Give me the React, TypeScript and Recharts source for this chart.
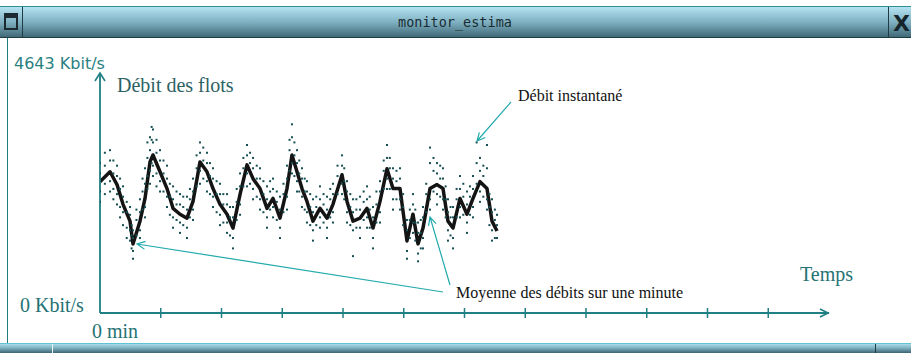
import React from 'react';
import { ComposedChart, Line, Scatter, XAxis, YAxis } from 'recharts';

// moyenne glissante (Kbit/s) en fonction du temps (min)
const avgTimes = [
  0, 0.165, 0.28, 0.379, 0.494, 0.543, 0.658, 0.741, 0.823, 0.872,
  0.988, 1.103, 1.202, 1.317, 1.432, 1.531, 1.646, 1.761, 1.86, 1.975,
  2.091, 2.189, 2.305, 2.42, 2.519, 2.634, 2.749, 2.848, 2.963, 3.078,
  3.16, 3.243, 3.325, 3.407, 3.506, 3.621, 3.737, 3.835, 3.984, 4.066,
  4.165, 4.28, 4.395, 4.494, 4.609, 4.724, 4.823, 4.938, 5.053, 5.152,
  5.235, 5.317, 5.432, 5.547, 5.646, 5.728, 5.811, 5.926, 6.041, 6.14,
  6.255, 6.37, 6.453, 6.535,
];
const avgValues = [
  2541, 2732, 2484, 2102, 1777, 1337, 1777, 2216, 2923, 3057,
  2732, 2407, 2025, 1911, 1834, 2159, 2923, 2732, 2407, 2102,
  1911, 1643, 2293, 2866, 2599, 2407, 2025, 2216, 1834, 2407,
  3057, 2732, 2407, 2159, 1777, 2025, 1834, 2102, 2675, 2159,
  1777, 1834, 2025, 1643, 2159, 2790, 2407, 2407, 1395, 1911,
  1337, 1643, 2407, 2484, 2407, 1777, 1643, 2216, 1911, 2216,
  2541, 2407, 1777, 1586,
];

// débit instantané : [temps, valeurs...]
const dotGroups: number[][] = [
  [0.0, 2900, 2700, 2350, 2150], [0.08, 3100, 2850, 2500, 2300],
  [0.165, 3150, 2950, 2550, 2350], [0.22, 2950, 2700, 2400, 2200],
  [0.28, 2850, 2650, 2300, 2100], [0.33, 2600, 2400, 2050, 1850],
  [0.379, 2450, 2250, 1950, 1700], [0.44, 2150, 1950, 1650, 1450],
  [0.494, 2050, 1900, 1600, 1400], [0.52, 1700, 1500, 1250],
  [0.543, 1600, 1450, 1200, 1050], [0.6, 2000, 1800, 1500],
  [0.658, 2200, 1950, 1600, 1450], [0.7, 2600, 2350, 2000],
  [0.741, 2800, 2500, 2050, 1850], [0.78, 3300, 3000, 2650, 2400],
  [0.823, 3400, 3150, 2750, 2500], [0.85, 3600, 3350, 2900],
  [0.872, 3550, 3300, 2850, 2650], [0.93, 3350, 3100, 2700, 2450],
  [0.988, 3150, 2950, 2550, 2350], [1.045, 2950, 2700, 2350],
  [1.103, 2850, 2600, 2250, 2050], [1.15, 2500, 2250, 1900],
  [1.202, 2450, 2200, 1850, 1650], [1.26, 2350, 2100, 1800],
  [1.317, 2300, 2100, 1750, 1550], [1.37, 2250, 2050, 1700],
  [1.432, 2250, 2000, 1650, 1450], [1.48, 2400, 2200, 1850],
  [1.531, 2600, 2350, 2000, 1800], [1.59, 3050, 2800, 2450],
  [1.646, 3300, 3100, 2750, 2500], [1.7, 3200, 2950, 2600],
  [1.761, 3100, 2900, 2550, 2350], [1.81, 2900, 2650, 2300],
  [1.86, 2800, 2600, 2250, 2050], [1.92, 2550, 2300, 1950],
  [1.975, 2500, 2300, 1900, 1700], [2.03, 2300, 2100, 1750],
  [2.091, 2300, 2100, 1750, 1550], [2.14, 2050, 1850, 1500],
  [2.189, 2050, 1850, 1450, 1250], [2.25, 2400, 2150, 1800],
  [2.305, 2700, 2450, 2100, 1900], [2.36, 3000, 2800, 2450],
  [2.42, 3250, 3050, 2700, 2450], [2.47, 3100, 2900, 2500],
  [2.519, 3000, 2800, 2400, 2200], [2.58, 2850, 2600, 2250],
  [2.634, 2800, 2600, 2200, 2000], [2.69, 2550, 2300, 1950],
  [2.749, 2450, 2200, 1850, 1650], [2.8, 2550, 2350, 2000],
  [2.848, 2600, 2400, 2050, 1850], [2.91, 2350, 2150, 1800],
  [2.963, 2250, 2000, 1650, 1450], [3.02, 2500, 2300, 1950],
  [3.078, 2850, 2600, 2250, 2000], [3.12, 3350, 3150, 2750],
  [3.16, 3650, 3400, 2900, 2700], [3.2, 3300, 3050, 2650],
  [3.243, 3150, 2900, 2550, 2350], [3.28, 2950, 2700, 2350],
  [3.325, 2800, 2600, 2250, 2050], [3.37, 2600, 2350, 2000],
  [3.407, 2550, 2350, 1950, 1750], [3.46, 2300, 2050, 1700],
  [3.506, 2200, 1950, 1600, 1400], [3.56, 2250, 2050, 1700],
  [3.621, 2450, 2200, 1850, 1650], [3.68, 2300, 2100, 1750],
  [3.737, 2250, 2000, 1650, 1450], [3.79, 2400, 2200, 1850],
  [3.835, 2500, 2300, 1950, 1750], [3.91, 2850, 2650, 2300],
  [3.984, 3050, 2850, 2500, 2300], [4.02, 2800, 2550, 2200],
  [4.066, 2550, 2350, 1950, 1750], [4.12, 2300, 2050, 1700],
  [4.165, 2200, 1950, 1600, 1100], [4.22, 2200, 2000, 1650],
  [4.28, 2250, 2000, 1650, 1450], [4.34, 2350, 2150, 1800],
  [4.395, 2450, 2200, 1850, 1650], [4.44, 2250, 2000, 1650],
  [4.494, 2050, 1850, 1450, 1250], [4.55, 2350, 2100, 1750],
  [4.609, 2550, 2350, 1950, 1750], [4.67, 2950, 2750, 2400],
  [4.724, 3250, 3000, 2600, 2400], [4.77, 3000, 2800, 2400],
  [4.823, 2800, 2600, 2200, 2000], [4.88, 2750, 2550, 2200],
  [4.938, 2800, 2600, 2200, 2000], [4.99, 2300, 2050, 1700],
  [5.053, 1800, 1600, 1200, 1050], [5.1, 2000, 1800, 1450],
  [5.152, 2300, 2100, 1750, 1550], [5.19, 2000, 1750, 1400],
  [5.235, 1750, 1550, 1150, 1000], [5.28, 1800, 1550, 1250],
  [5.317, 2050, 1850, 1450, 1250], [5.37, 2500, 2300, 1950],
  [5.432, 3200, 2900, 2200, 2000], [5.49, 3000, 2750, 2350],
  [5.547, 2900, 2700, 2300, 2100], [5.6, 2850, 2600, 2250],
  [5.646, 2800, 2600, 2200, 2000], [5.69, 2450, 2200, 1850],
  [5.728, 2200, 1950, 1600, 1400], [5.77, 2050, 1850, 1500],
  [5.811, 2050, 1850, 1450, 1250], [5.87, 2400, 2200, 1850],
  [5.926, 2650, 2400, 2050, 1850], [5.98, 2500, 2250, 1900],
  [6.041, 2350, 2100, 1750, 1550], [6.09, 2450, 2250, 1900],
  [6.14, 2650, 2400, 2050, 1850], [6.2, 3300, 2900, 2500],
  [6.255, 3000, 2750, 2350, 2150], [6.31, 2850, 2650, 2250],
  [6.37, 3250, 2800, 2200, 2000], [6.41, 2300, 2050, 1700],
  [6.453, 2200, 1950, 1600, 1400], [6.5, 2000, 1800, 1450],
  [6.535, 1900, 1700, 1450],
];

const xTicks = [0, 1, 2, 3, 4, 5, 6, 7, 8, 9, 10, 11];
const yMax = 4643;
const yTicks = [0, yMax];

const avgData = avgTimes.map((t, i) => ({ t, v: avgValues[i] }));
const dotData = dotGroups.flatMap(([t, ...vs]) => vs.map((v) => ({ t, v })));

const TEAL = '#1f7f82';
const LABEL = '#257273';
const SERIF = '"Liberation Serif", "DejaVu Serif", serif';

const XTick = (props: any) => {
  const { x, y, payload } = props;
  if (payload.value === 0) {
    return (
      <text x={x - 8} y={y + 25} fontFamily={SERIF} fontSize={20} fill={LABEL}>
        0 min
      </text>
    );
  }
  return <line x1={x} x2={x} y1={y - 5} y2={y + 5} stroke={TEAL} strokeWidth={1.5} />;
};

const YTick = (props: any) => {
  const { y, payload } = props;
  if (payload.value === 0) {
    return (
      <text x={20} y={y - 1} fontFamily={SERIF} fontSize={20} fill={LABEL}>
        0 Kbit/s
      </text>
    );
  }
  return (
    <text x={14} y={y - 4} fontFamily='"DejaVu Sans", sans-serif' fontSize={16} fill="#2a8082">
      4643 Kbit/s
    </text>
  );
};

const Dot = (props: any) => (
  <rect x={props.cx - 1} y={props.cy - 1} width={2} height={2} fill="#164f52" />
);

function arrow(x1: number, y1: number, x2: number, y2: number, len = 9, spread = 0.45) {
  // pointe ouverte en (x2, y2)
  const a = Math.atan2(y1 - y2, x1 - x2);
  const p1 = [x2 + len * Math.cos(a + spread), y2 + len * Math.sin(a + spread)];
  const p2 = [x2 + len * Math.cos(a - spread), y2 + len * Math.sin(a - spread)];
  return `M${x1},${y1} L${x2},${y2} M${p1[0]},${p1[1]} L${x2},${y2} L${p2[0]},${p2[1]}`;
}

export default function App() {
  return (
    <div style={{ position: 'absolute', left: 0, top: 0, width: 911, height: 353, background: '#fff', overflow: 'hidden' }}>
      {/* cadre de la fenêtre */}
      <svg width={911} height={353} style={{ position: 'absolute', left: 0, top: 0 }}>
        <defs>
          <linearGradient id="bar" x1="0" y1="0" x2="0" y2="1">
            <stop offset="0" stopColor="#b8e6f3" />
            <stop offset="0.5" stopColor="#7fb1c2" />
            <stop offset="1" stopColor="#3c6473" />
          </linearGradient>
        </defs>
        <rect x={0} y={6} width={911} height={32} fill="url(#bar)" />
        <line x1={0} x2={911} y1={6.5} y2={6.5} stroke="#2f8d98" />
        <line x1={0} x2={911} y1={37.5} y2={37.5} stroke="#1f3b44" />
        <line x1={22.5} x2={22.5} y1={7} y2={37} stroke="#1f3b44" />
        <line x1={888.5} x2={888.5} y1={7} y2={37} stroke="#1f3b44" />
        <rect x={5} y={14} width={12} height={15} fill="none" stroke="#1a2a30" strokeWidth={2} />
        <rect x={5} y={14} width={12} height={4} fill="#1a2a30" />
        <text x={893} y={31} fontFamily='"DejaVu Sans", sans-serif' fontWeight="bold" fontSize={22} fill="#15252b">X</text>
        <text x={455} y={27} textAnchor="middle" fontFamily='"DejaVu Sans Mono", monospace' fontSize={13.5} fill="#1a2c33">
          monitor_estima
        </text>
        <line x1={7.5} x2={7.5} y1={38} y2={343} stroke={TEAL} />
        <rect x={0} y={343} width={911} height={10} fill="url(#bar)" />
        <line x1={0} x2={911} y1={343.5} y2={343.5} stroke="#5ec3d3" />
        <line x1={52.5} x2={52.5} y1={344} y2={353} stroke="#e8f6fa" />
        <line x1={875.5} x2={875.5} y1={344} y2={353} stroke="#1f3b44" />
      </svg>

      <div style={{ position: 'absolute', left: 0, top: 0 }}>
        <ComposedChart width={911} height={353} margin={{ top: 73, right: 82, bottom: 10, left: 40 }}>
          <XAxis
            dataKey="t"
            type="number"
            domain={[0, 12]}
            ticks={xTicks}
            interval={0}
            height={30}
            tickSize={0}
            tickMargin={0}
            tickLine={false}
            axisLine={{ stroke: TEAL, strokeWidth: 1.8 }}
            tick={<XTick />}
            allowDataOverflow
          />
          <YAxis
            dataKey="v"
            type="number"
            domain={[0, yMax]}
            ticks={yTicks}
            interval={0}
            width={60}
            tickSize={0}
            tickMargin={0}
            tickLine={false}
            axisLine={{ stroke: TEAL, strokeWidth: 1.8 }}
            tick={<YTick />}
          />
          <Scatter data={dotData} dataKey="v" shape={<Dot />} isAnimationActive={false} />
          <Line
            data={avgData}
            dataKey="v"
            type="linear"
            stroke="#141414"
            strokeWidth={3.5}
            strokeLinejoin="round"
            dot={false}
            isAnimationActive={false}
          />
        </ComposedChart>
      </div>

      {/* flèches des axes et annotations */}
      <svg width={911} height={353} style={{ position: 'absolute', left: 0, top: 0, pointerEvents: 'none' }}>
        <path d="M95,81 L100,73 L105,81" fill="none" stroke={TEAL} strokeWidth={1.6} />
        <path d="M820,309 L828,313 L820,317" fill="none" stroke={TEAL} strokeWidth={1.6} />
        <path d={arrow(443, 292, 137, 244)} fill="none" stroke="#22aaad" strokeWidth={1.2} />
        <path d={arrow(450, 285, 430, 217)} fill="none" stroke="#22aaad" strokeWidth={1.2} />
        <path d={arrow(511, 102, 477, 141)} fill="none" stroke="#22aaad" strokeWidth={1.2} />
        <text x={117} y={92} fontFamily={SERIF} fontSize={20} fill="#2d6264">Débit des flots</text>
        <text x={800} y={281} fontFamily={SERIF} fontSize={20} fill={LABEL}>Temps</text>
        <text x={518} y={101} fontFamily={SERIF} fontSize={16} fill="#111">Débit instantané</text>
        <text x={456} y={298} fontFamily={SERIF} fontSize={16} fill="#111">Moyenne des débits sur une minute</text>
      </svg>
    </div>
  );
}
